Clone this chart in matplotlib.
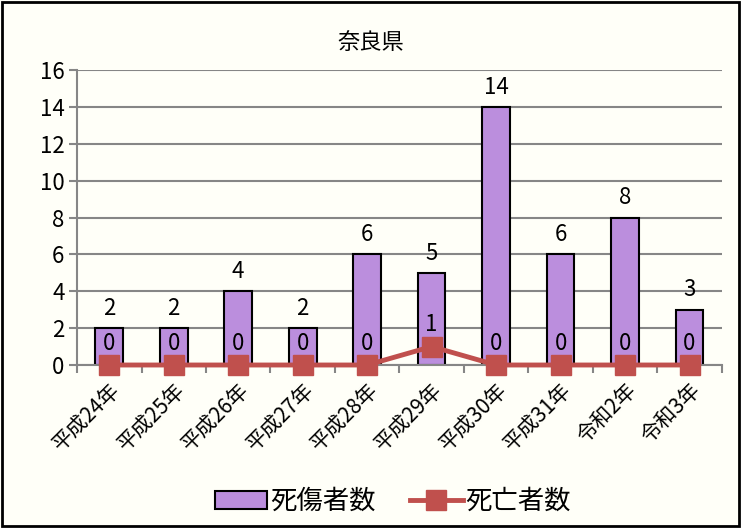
import matplotlib.pyplot as plt
import numpy as np
from matplotlib.patches import Rectangle

plt.rcParams['font.family'] = ['Noto Sans CJK JP', 'DejaVu Sans']

# data
years = ['平成24年', '平成25年', '平成26年', '平成27年', '平成28年',
         '平成29年', '平成30年', '平成31年', '令和2年', '令和3年']
casualties = [2, 2, 4, 2, 6, 5, 14, 6, 8, 3]
deaths = [0, 0, 0, 0, 0, 1, 0, 0, 0, 0]

bg = '#FFFFF8'
fig = plt.figure(figsize=(7.41, 5.28), dpi=100, facecolor=bg)
ax = fig.add_axes([0.104, 0.3087, 0.870, 0.5587])
ax.set_facecolor(bg)

x = np.arange(len(years))
bars = ax.bar(x, casualties, width=0.43, color='#BB8EDD', edgecolor='black',
              linewidth=1.5, label='死傷者数', zorder=2)
line, = ax.plot(x, deaths, color='#C0504D', linewidth=3.5, marker='s', markersize=14.5,
                label='死亡者数', zorder=3, clip_on=False)

for xi, v in zip(x, casualties):
    ax.text(xi, v + 0.45, str(v), ha='center', va='bottom', fontsize=16)
for xi, v in zip(x, deaths):
    ax.text(xi, v + 0.55, str(v), ha='center', va='bottom', fontsize=16, zorder=4)

ax.set_xlim(-0.5, len(years) - 0.5)
ax.set_ylim(0, 16)
ax.set_yticks(range(0, 17, 2))
ax.yaxis.grid(True, color='#868686', linewidth=1.5, zorder=0)
ax.set_axisbelow(True)

ax.set_xticks(x)
ax.set_xticklabels(years, rotation=45, ha='right', va='top',
                   rotation_mode='anchor', fontsize=15)
ax.tick_params(axis='x', length=0, pad=10)
ax.set_xticks(np.arange(-0.5, len(years)), minor=True)
ax.tick_params(axis='x', which='minor', length=6, color='#868686', width=1.5)
ax.tick_params(axis='y', labelsize=16, length=6, color='#868686', width=1.5, pad=3)

for side in ['top', 'right']:
    ax.spines[side].set_visible(False)
for side in ['left', 'bottom']:
    ax.spines[side].set_color('#868686')
    ax.spines[side].set_linewidth(1.5)

fig.text(0.5, 0.92, '奈良県', ha='center', va='center', fontsize=16)

fig.legend([bars, line], ['死傷者数', '死亡者数'], loc='center',
           bbox_to_anchor=(0.53, 0.05), ncol=2, frameon=False,
           fontsize=19, handlelength=2.0, columnspacing=1.3, handletextpad=0.1)

fig.patches.append(Rectangle((0.003, 0.003), 0.994, 0.994, transform=fig.transFigure,
                             fill=False, edgecolor='black', linewidth=2))

fig.savefig('out.png', dpi=100, facecolor=bg)
